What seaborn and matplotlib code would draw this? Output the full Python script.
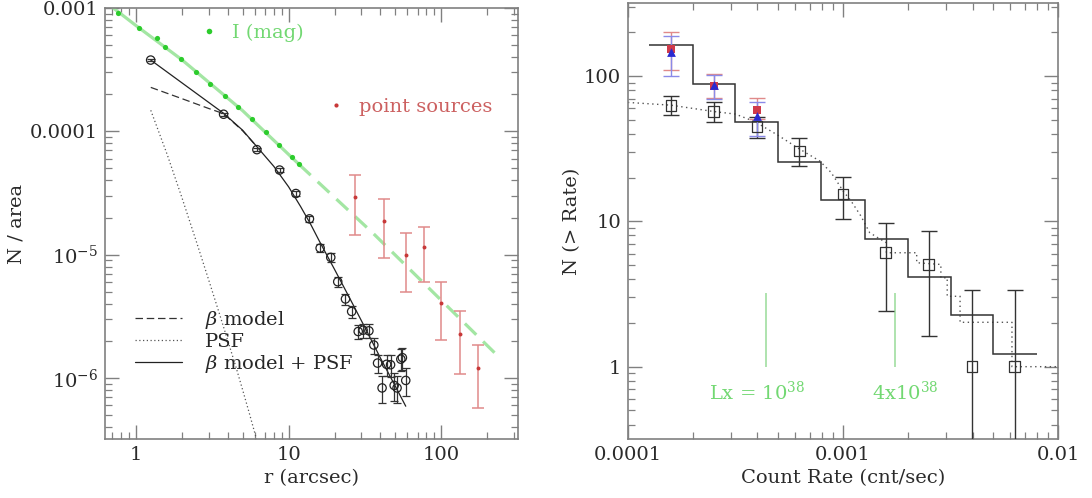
import numpy as np
import pandas as pd
import matplotlib
matplotlib.use("Agg")
import matplotlib.pyplot as plt
import seaborn as sns
from matplotlib.lines import Line2D
from matplotlib.ticker import FixedLocator, FixedFormatter, LogLocator, NullFormatter

# ---------------- left panel data ----------------
imag_r = [0.762, 1.046, 1.373, 1.548, 1.97, 2.47, 3.05, 3.83, 4.66, 5.75, 7.1, 8.64, 10.5, 11.7]
imag_n = [9.06e-4, 6.88e-4, 5.74e-4, 4.79e-4, 3.87e-4, 3.03e-4, 2.41e-4, 1.95e-4,
          1.57e-4, 1.26e-4, 9.8e-5, 7.7e-5, 6.18e-5, 5.4e-5]
imag_fit_r = [0.63, 1.0, 2.0, 5.0, 11.7]
imag_fit_n = [1.12e-3, 7.2e-4, 3.8e-4, 1.47e-4, 5.4e-5]
imag_ext_r = [11.7, 35.6, 224.0]
imag_ext_n = [5.4e-5, 1.5e-5, 1.6e-6]

circ_r = [1.248, 3.75, 6.2, 8.73, 11.16, 13.7, 16.1, 18.9, 21.0, 23.6, 25.9, 28.6,
          30.8, 33.6, 36.2, 38.3, 41.0, 43.9, 46.6, 49.2, 51.4, 54.4, 55.7, 58.6]
circ_n = [3.78e-4, 1.375e-4, 7.1e-5, 4.85e-5, 3.13e-5, 1.95e-5, 1.13e-5, 9.5e-6,
          6.03e-6, 4.37e-6, 3.46e-6, 2.38e-6, 2.44e-6, 2.41e-6, 1.85e-6, 1.32e-6,
          8.3e-7, 1.29e-6, 1.28e-6, 8.7e-7, 8.3e-7, 1.42e-6, 1.46e-6, 9.55e-7]
circ_frac_err = [0.02, 0.03, 0.03, 0.04, 0.05, 0.06, 0.07, 0.08, 0.09, 0.10, 0.11, 0.13,
                 0.13, 0.13, 0.15, 0.17, 0.25, 0.20, 0.20, 0.25, 0.25, 0.20, 0.20, 0.25]

ps_r = [27.3, 41.9, 58.6, 76.9, 100.0, 132.4, 174.5]
ps_n = [2.92e-5, 1.89e-5, 1.0e-5, 1.15e-5, 4.02e-6, 2.29e-6, 1.21e-6]
ps_hi = [4.39e-5, 2.84e-5, 1.5e-5, 1.69e-5, 6.0e-6, 3.5e-6, 1.84e-6]
ps_lo = [1.45e-5, 9.4e-6, 4.94e-6, 6.03e-6, 2.02e-6, 1.07e-6, 5.67e-7]

beta_r = [1.25, 2.0, 3.0, 3.75, 5.0, 6.2]
beta_n = [2.27e-4, 1.84e-4, 1.53e-4, 1.39e-4, 1.01e-4, 7.5e-5]
psf_r = [1.25, 1.6, 2.0, 2.5, 3.0, 3.5, 4.0, 4.5, 5.0, 5.5, 6.0, 6.5]
psf_n = [1.48e-4, 6.5e-5, 2.9e-5, 1.25e-5, 6.2e-6, 3.4e-6, 2.0e-6, 1.25e-6, 8e-7, 5.3e-7, 3.6e-7, 2.5e-7]
tot_r = [1.25, 3.75, 5.0, 6.2, 8.0, 10.0, 12.0, 14.0, 16.0, 20.0, 25.0, 32.0, 40.0, 50.0, 58.6]
tot_n = [3.78e-4, 1.40e-4, 1.02e-4, 7.5e-5, 5.2e-5, 3.55e-5, 2.45e-5, 1.75e-5, 1.27e-5,
         7.6e-6, 4.5e-6, 2.5e-6, 1.45e-6, 8.6e-7, 5.9e-7]

left_xticks = [1, 10, 100]
left_xlabels = ["1", "10", "100"]
left_yticks = [1e-6, 1e-5, 1e-4, 1e-3]
left_ylabels = ["10$^{-6}$", "10$^{-5}$", "0.0001", "0.001"]

# ---------------- right panel data ----------------
rate = [1.585e-4, 2.5e-4, 3.98e-4, 6.27e-4, 1.0e-3, 1.58e-3, 2.5e-3, 3.98e-3, 6.27e-3]
n_obs = [63, 57.1, 45.2, 30.5, 15.4, 6.08, 5.05, 1.0, 1.0]
obs_hi = [72.5, 66.5, 52, 37.3, 20.3, 9.7, 8.57, 3.36, 3.36]
obs_lo = [54.1, 48.4, 37.2, 24.1, 10.3, 2.43, 1.62, 0.001, 0.001]

rate_c = [1.585e-4, 2.5e-4, 3.98e-4]
red_n = [153.5, 85.7, 58.3]
red_hi = [200, 103, 70.2]
red_lo = [110, 70.8, 50.5]
blue_n = [145.6, 87, 53.2]
blue_hi = [188, 101, 65.8]
blue_lo = [99.5, 70, 38.7]

hist_edges = [1.26e-4, 2.0e-4, 3.16e-4, 5.0e-4, 7.94e-4, 1.26e-3, 2.0e-3, 3.16e-3, 5.0e-3, 7.94e-3]
hist_vals = [164, 88, 48, 25.8, 14.0, 7.6, 4.15, 2.25, 1.22]

model_x = [1.0e-4, 1.585e-4, 2.5e-4, 3.16e-4, 3.98e-4, 4.2e-4, 5.0e-4, 6.2e-4, 7.8e-4, 8.8e-4,
           1.0e-3, 1.09e-3, 1.21e-3, 1.33e-3, 1.45e-3, 1.59e-3, 1.59e-3, 2.2e-3, 2.2e-3,
           2.85e-3, 2.85e-3, 3.05e-3, 3.05e-3, 3.5e-3, 3.5e-3, 6.1e-3, 6.1e-3, 1.0e-2]
model_y = [65.8, 63, 57, 54.7, 47.9, 45.4, 39, 31.8, 26.0, 21.7, 16.2, 13.8, 10.9, 8.36,
           7.72, 7.13, 6.08, 6.08, 5.19, 5.05, 4.09, 4.09, 3.05, 3.05, 2.02, 2.02, 1.0, 1.0]

lx_rate = [4.37e-4, 1.75e-3]
lx_text = ["Lx = 10$^{38}$", "4x10$^{38}$"]

right_xticks = [1e-4, 1e-3, 1e-2]
right_xlabels = ["0.0001", "0.001", "0.01"]
right_yticks = [1, 10, 100]
right_ylabels = ["1", "10", "100"]

# ---------------- style ----------------
sns.set_theme(style="ticks")
plt.rcParams["font.family"] = ["DejaVu Serif"]
plt.rcParams["mathtext.fontset"] = "dejavuserif"

GREY = "#808080"
GREEN_DOT = "#2ccc2c"
GREEN_LINE = "#a3e6a3"
GREEN_TXT = "#72d872"
RED = "#c83838"
RED_BAR = "#e08a8a"
RED_TXT = "#cc6060"
BLUE = "#2a2ad0"
BLUE_BAR = "#8a8ae8"
FS = 14

fig = plt.figure(figsize=(10.92, 4.98), dpi=100)
ax1 = fig.add_axes([0.0962, 0.1185, 0.378, 0.8655])
ax2 = fig.add_axes([0.575, 0.1185, 0.394, 0.8755])

for ax in (ax1, ax2):
    ax.set_xscale("log")
    ax.set_yscale("log")
    for sp in ax.spines.values():
        sp.set_color(GREY)
        sp.set_linewidth(1.2)
    ax.tick_params(which="both", direction="in", top=True, right=True,
                   color=GREY, labelcolor="#2a2a2a", labelsize=FS)
    ax.tick_params(which="major", length=10, width=1.0, pad=5)
    ax.tick_params(which="minor", length=5, width=0.9)

# ---------------- left panel ----------------
ax1.set_xlim(0.627, 318)
ax1.set_ylim(3.2e-7, 1e-3)

sns.lineplot(x=imag_fit_r, y=imag_fit_n, ax=ax1, color=GREEN_LINE, lw=2.3, estimator=None, sort=False)
sns.lineplot(x=imag_ext_r, y=imag_ext_n, ax=ax1, color=GREEN_LINE, lw=2.3, estimator=None,
             sort=False, dashes=False, linestyle=(0, (5, 3)))
sns.scatterplot(x=imag_r, y=imag_n, ax=ax1, color=GREEN_DOT, s=14, linewidth=0, zorder=4)

sns.lineplot(x=psf_r, y=psf_n, ax=ax1, color="#555555", lw=0.9, estimator=None, sort=False,
             linestyle=(0, (1, 2)))
sns.lineplot(x=beta_r, y=beta_n, ax=ax1, color="#333333", lw=0.9, estimator=None, sort=False,
             linestyle=(0, (6, 3)))
sns.lineplot(x=tot_r, y=tot_n, ax=ax1, color="#222222", lw=0.9, estimator=None, sort=False)

cn = np.array(circ_n)
ce = cn * np.array(circ_frac_err)
ax1.errorbar(circ_r, circ_n, yerr=ce, fmt="none", ecolor="#333333", elinewidth=0.9,
             capsize=3, capthick=0.9, zorder=5)
sns.scatterplot(x=circ_r, y=circ_n, ax=ax1, marker="o", s=36, facecolor="none",
                edgecolor="#222222", linewidth=0.9, zorder=6)

pn = np.array(ps_n)
ax1.errorbar(ps_r, ps_n, yerr=[pn - np.array(ps_lo), np.array(ps_hi) - pn], fmt="none",
             ecolor=RED_BAR, elinewidth=1.1, capsize=4, capthick=1.1, zorder=5)
sns.scatterplot(x=ps_r, y=ps_n, ax=ax1, color=RED, s=8, linewidth=0, zorder=6)

ax1.xaxis.set_major_locator(FixedLocator(left_xticks))
ax1.xaxis.set_major_formatter(FixedFormatter(left_xlabels))
ax1.xaxis.set_minor_locator(LogLocator(base=10, subs=np.arange(2, 10)))
ax1.xaxis.set_minor_formatter(NullFormatter())
ax1.yaxis.set_major_locator(FixedLocator(left_yticks))
ax1.yaxis.set_major_formatter(FixedFormatter(left_ylabels))
ax1.yaxis.set_minor_locator(LogLocator(base=10, subs=np.arange(2, 10)))
ax1.yaxis.set_minor_formatter(NullFormatter())
ax1.set_xlabel("r (arcsec)", fontsize=FS, color="#2a2a2a", labelpad=4)
ax1.set_ylabel("N / area", fontsize=FS, color="#2a2a2a", labelpad=3)

h_beta = Line2D([], [], color="#333333", lw=0.9, linestyle=(0, (6, 3)))
h_psf = Line2D([], [], color="#555555", lw=0.9, linestyle=(0, (1, 2)))
h_tot = Line2D([], [], color="#222222", lw=0.9)
leg1 = ax1.legend([h_beta, h_psf, h_tot], [r"$\beta$ model", "PSF", r"$\beta$ model + PSF"],
                  loc="center left", bbox_to_anchor=(0.073, 0.225), frameon=False,
                  fontsize=FS, handlelength=2.4, handletextpad=1.2, labelspacing=0.1,
                  borderpad=0, borderaxespad=0)
ax1.add_artist(leg1)
h_i = Line2D([], [], color=GREEN_DOT, marker="o", ms=4, ls="none", mec="none")
leg2 = ax1.legend([h_i], ["I (mag)"], loc="center left", bbox_to_anchor=(0.228, 0.943),
                  frameon=False, fontsize=FS, handlelength=1.0, handletextpad=0.7,
                  borderpad=0, borderaxespad=0, labelcolor=GREEN_TXT)
ax1.add_artist(leg2)
h_p = Line2D([], [], color=RED, marker="o", ms=3, ls="none", mec="none")
ax1.legend([h_p], ["point sources"], loc="center left", bbox_to_anchor=(0.535, 0.771),
           frameon=False, fontsize=FS, handlelength=1.0, handletextpad=0.7,
           borderpad=0, borderaxespad=0, labelcolor=RED_TXT)

# ---------------- right panel ----------------
ax2.set_xlim(1e-4, 1e-2)
ax2.set_ylim(0.318, 318)

ax2.stairs(hist_vals, hist_edges, baseline=None, color="#333333", lw=1.1, zorder=3)
sns.lineplot(x=model_x, y=model_y, ax=ax2, color="#555555", lw=1.0, estimator=None, sort=False,
             linestyle=(0, (1, 2.5)))

on = np.array(n_obs)
ax2.errorbar(rate, n_obs, yerr=[on - np.array(obs_lo), np.array(obs_hi) - on], fmt="none",
             ecolor="#333333", elinewidth=1.0, capsize=5.5, capthick=1.0, zorder=4)
sns.scatterplot(x=rate, y=n_obs, ax=ax2, marker="s", s=60, facecolor="none",
                edgecolor="#333333", linewidth=0.9, zorder=5)

rn = np.array(red_n)
ax2.errorbar(rate_c, red_n, yerr=[rn - np.array(red_lo), np.array(red_hi) - rn], fmt="none",
             ecolor=RED_BAR, elinewidth=1.0, capsize=5.5, capthick=1.0, zorder=4)
bn = np.array(blue_n)
ax2.errorbar(rate_c, blue_n, yerr=[bn - np.array(blue_lo), np.array(blue_hi) - bn], fmt="none",
             ecolor=BLUE_BAR, elinewidth=1.0, capsize=5.5, capthick=1.0, zorder=4)
sns.scatterplot(x=rate_c, y=red_n, ax=ax2, marker="s", s=40, color="#d03a4a", linewidth=0, zorder=6)
sns.scatterplot(x=rate_c, y=blue_n, ax=ax2, marker="^", s=40, color=BLUE, linewidth=0, zorder=7)

ax2.vlines(lx_rate, 1.0, 3.2, color="#a8e0a8", lw=1.3, zorder=2)
ax2.text(4.0e-4, 0.67, lx_text[0], color=GREEN_TXT, fontsize=FS, ha="center", va="center")
ax2.text(1.94e-3, 0.67, lx_text[1], color=GREEN_TXT, fontsize=FS, ha="center", va="center")

ax2.xaxis.set_major_locator(FixedLocator(right_xticks))
ax2.xaxis.set_major_formatter(FixedFormatter(right_xlabels))
ax2.xaxis.set_minor_locator(LogLocator(base=10, subs=np.arange(2, 10)))
ax2.xaxis.set_minor_formatter(NullFormatter())
ax2.yaxis.set_major_locator(FixedLocator(right_yticks))
ax2.yaxis.set_major_formatter(FixedFormatter(right_ylabels))
ax2.yaxis.set_minor_locator(LogLocator(base=10, subs=np.arange(2, 10)))
ax2.yaxis.set_minor_formatter(NullFormatter())
ax2.set_xlabel("Count Rate (cnt/sec)", fontsize=FS, color="#2a2a2a", labelpad=4)
ax2.set_ylabel("N (> Rate)", fontsize=FS, color="#2a2a2a", labelpad=2)

fig.savefig("out.png", dpi=100, facecolor="white")
